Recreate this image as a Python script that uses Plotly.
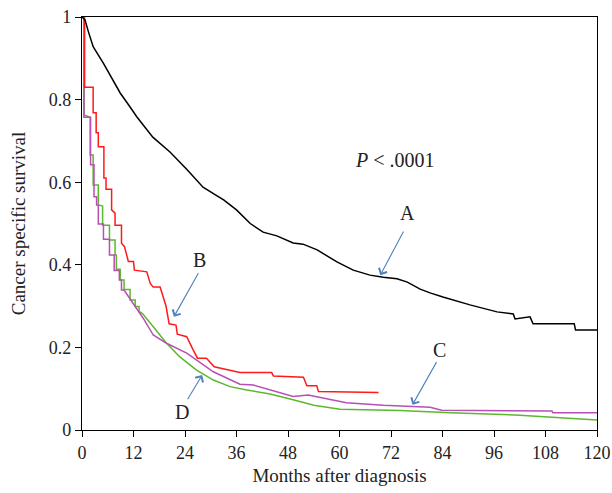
import plotly.graph_objects as go

# Group A (black)
a_x = [0, 0.7, 1.5, 2.6, 5, 7, 8.9, 11, 12.8, 16.5, 20.5, 24.5, 28.2, 31, 33, 36, 39.2, 42.2, 45.4, 49.2, 51.5,
       54.8, 59.4, 63.2, 67.1, 70.2, 73.4, 75.8, 78.8, 81.1, 84.1, 90.4, 96.7, 100.5, 100.9, 104.4, 105.1,
       114.7, 115, 120]
a_y = [1, 0.993, 0.964, 0.928, 0.888, 0.85, 0.816, 0.785, 0.758, 0.709, 0.673, 0.63, 0.588, 0.57, 0.557, 0.533,
       0.50, 0.479, 0.47, 0.453, 0.450, 0.436, 0.407, 0.387, 0.375, 0.370, 0.366, 0.358, 0.341, 0.332, 0.322,
       0.303, 0.286, 0.281, 0.269, 0.274, 0.257, 0.257, 0.242, 0.242]

# Group B (red)
b_x = [0, 0.6, 0.6, 2.6, 2.6, 3.3, 3.3, 3.8, 3.8, 5.1, 5.1, 5.6, 5.6, 6.9, 6.9, 7.7, 7.7, 9.2, 9.2, 9.9, 10.8,
       12, 12.2, 15.1, 15.9, 16.6, 18.2, 19.6, 20.3, 21.9, 22.2, 24.4, 25.9, 26.9, 29.0, 30.8, 36.8, 44.2,
       44.6, 51.6, 52.4, 54.7, 55.1, 69.1]
b_y = [1, 1, 0.83, 0.83, 0.768, 0.768, 0.72, 0.72, 0.686, 0.686, 0.61, 0.61, 0.583, 0.583, 0.533, 0.525, 0.496,
       0.496, 0.452, 0.444, 0.408, 0.408, 0.387, 0.383, 0.355, 0.346, 0.346, 0.299, 0.257, 0.254, 0.232, 0.226,
       0.194, 0.174, 0.174, 0.153, 0.139, 0.139, 0.131, 0.128, 0.107, 0.107, 0.093, 0.091]

# Group C (magenta)
c_x = [0, 0.45, 0.45, 2.0, 2.0, 2.8, 2.8, 3.4, 3.4, 3.8, 3.8, 5.0, 5.0, 6.4, 6.4, 7.5, 7.5, 8.7, 8.7, 9.2, 9.2,
       9.8, 14.3, 16.6, 19.7, 24.4, 30.6, 36.8, 39.9, 43.8, 49.2, 52.7, 61.6, 70.2, 75.6, 81.1, 83.8, 109.5,
       109.7, 120]
c_y = [1, 1, 0.757, 0.757, 0.642, 0.642, 0.565, 0.565, 0.545, 0.545, 0.499, 0.499, 0.462, 0.462, 0.424, 0.424,
       0.386, 0.386, 0.363, 0.363, 0.339, 0.339, 0.27, 0.230, 0.21, 0.186, 0.141, 0.111, 0.109, 0.098, 0.081,
       0.085, 0.066, 0.060, 0.058, 0.055, 0.048, 0.046, 0.042, 0.042]

# Group D (green)
d_x = [0, 0.5, 0.5, 1.9, 1.9, 2.6, 2.6, 3.8, 3.8, 4.8, 4.8, 6.4, 6.4, 7.7, 7.7, 8.0, 8.0, 8.9, 8.9, 9.8, 9.8,
       11.2, 11.2, 12.4, 12.4, 13.3, 13.3, 14.1, 16.6, 19.7, 22.8, 26.7, 30.6, 34.5, 38.4, 43.8, 49.2, 54,
       60.1, 74.1, 85.8, 102, 120]
d_y = [1, 1, 0.763, 0.757, 0.666, 0.666, 0.593, 0.593, 0.545, 0.542, 0.496, 0.496, 0.46, 0.46, 0.424, 0.424,
       0.389, 0.389, 0.363, 0.363, 0.34, 0.34, 0.315, 0.315, 0.299, 0.299, 0.287, 0.282, 0.25, 0.21, 0.177,
       0.145, 0.121, 0.105, 0.097, 0.087, 0.073, 0.060, 0.050, 0.047, 0.042, 0.036, 0.024]

# Labels: text, label position (x, y), arrow tail (x, y), arrow head (x, y)
labels = ["A", "B", "C", "D"]
label_pos = [(75.8, 0.525), (27.3, 0.412), (83.4, 0.194), (23.3, 0.044)]
arrow_tail = [(75.1, 0.484), (27.3, 0.383), (82.8, 0.168), (24.4, 0.071)]
arrow_head = [(69.5, 0.375), (21.4, 0.274), (77.0, 0.061), (28.0, 0.133)]

x_ticks = list(range(0, 121, 12))
y_ticks = [0, 0.2, 0.4, 0.6, 0.8, 1]
y_tick_text = ["0", "0.2", "0.4", "0.6", "0.8", "1"]

FONT = "Liberation Serif"
fig = go.Figure()
fig.add_trace(go.Scatter(x=d_x, y=d_y, mode="lines", line=dict(color="#5cb82e", width=1.5), name="D"))
fig.add_trace(go.Scatter(x=c_x, y=c_y, mode="lines", line=dict(color="#b84fb4", width=1.5), name="C"))
fig.add_trace(go.Scatter(x=b_x, y=b_y, mode="lines", line=dict(color="#ff1a1a", width=1.5), name="B"))
fig.add_trace(go.Scatter(x=a_x, y=a_y, mode="lines", line=dict(color="black", width=1.5), name="A"))

arrow_col = "#4f81bd"
for t, (lx, ly), (tx, ty), (hx, hy) in zip(labels, label_pos, arrow_tail, arrow_head):
    fig.add_annotation(x=lx, y=ly, text=t, showarrow=False,
                       font=dict(family=FONT, size=20, color="#222"))
    fig.add_annotation(x=hx, y=hy, ax=tx, ay=ty, xref="x", yref="y", axref="x", ayref="y",
                       text="", showarrow=True, arrowhead=4, arrowsize=1.6, arrowwidth=1.1,
                       arrowcolor=arrow_col)

fig.add_annotation(x=73, y=0.654, text="<i>P</i> < .0001", showarrow=False,
                   font=dict(family=FONT, size=20, color="#222"))

fig.update_layout(
    width=612, height=493,
    margin=dict(l=82, r=15, t=17, b=63),
    paper_bgcolor="white", plot_bgcolor="white",
    showlegend=False,
    font=dict(family=FONT, size=18, color="#222"),
    xaxis=dict(range=[0, 120], tickvals=x_ticks, ticks="outside", ticklen=6, tickcolor="black",
               showline=True, linecolor="black", linewidth=1.3, mirror=True, showgrid=False,
               zeroline=False, title=dict(text="Months after diagnosis", font=dict(size=19), standoff=6),
               tickfont=dict(size=18), automargin=False),
    yaxis=dict(range=[0, 1], tickvals=y_ticks, ticktext=y_tick_text, ticks="outside", ticklen=6,
               tickcolor="black", showline=True, linecolor="black", linewidth=1.3, mirror=True,
               showgrid=False, zeroline=False,
               title=dict(text="Cancer specific survival", font=dict(size=19), standoff=18),
               tickfont=dict(size=18), automargin=False),
)

fig.write_html("out.html", config={"displayModeBar": False},
               post_script="document.body.style.margin='0';document.body.style.overflow='hidden';")
